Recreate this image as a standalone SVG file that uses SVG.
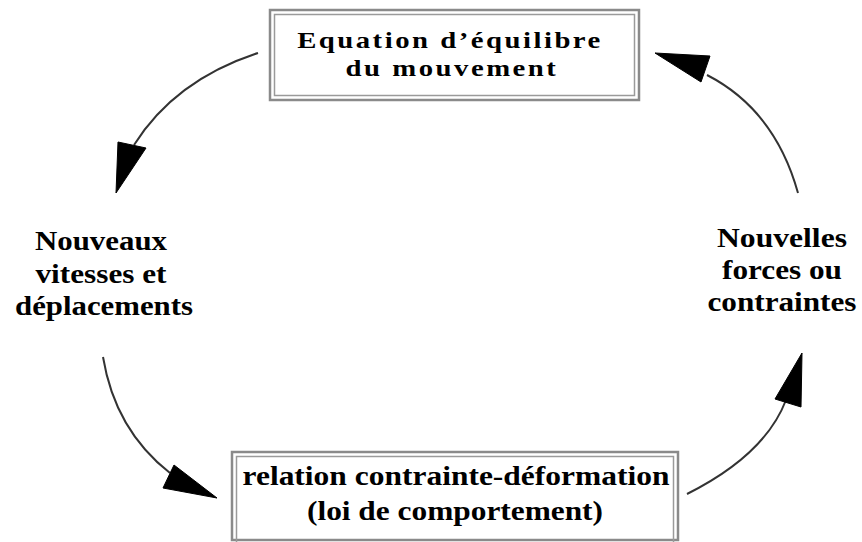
<svg xmlns="http://www.w3.org/2000/svg" width="862" height="542" viewBox="0 0 862 542">
<style>
.outer{fill:none;stroke:#8a8a8a;stroke-width:2.5}
.inner{fill:none;stroke:#9a9a9a;stroke-width:1.5}
.t{font-family:"Liberation Serif","Times New Roman",serif;font-weight:bold;fill:#000;text-anchor:middle}
.conn path{fill:none;stroke:#333;stroke-width:2}
.conn polygon{fill:#000;stroke:#000;stroke-width:1}
</style>
<rect width="862" height="542" fill="#fff"/>
<g id="equation">
<rect class="outer" x="270" y="10" width="369" height="90"/>
<rect class="inner" x="274.5" y="14.5" width="360" height="81"/>
<text class="t" transform="translate(450,48) scale(1.25,1)" x="0" y="0" font-size="23" letter-spacing="2">Equation d’équilibre</text>
<text class="t" transform="translate(452,76) scale(1.25,1)" x="0" y="0" font-size="23" letter-spacing="2">du mouvement</text>
</g>
<g id="relation">
<rect class="outer" x="232" y="452" width="446" height="88"/>
<rect class="inner" x="236.5" y="456.5" width="437" height="90"/>
<text class="t" x="456" y="485" font-size="28" textLength="427" lengthAdjust="spacingAndGlyphs">relation contrainte-déformation</text>
<text class="t" x="455" y="520" font-size="28" textLength="296" lengthAdjust="spacingAndGlyphs">(loi de comportement)</text>
</g>
<g id="nouveaux">
<text class="t" x="101" y="250" font-size="28" textLength="132" lengthAdjust="spacingAndGlyphs">Nouveaux</text>
<text class="t" x="101" y="283" font-size="28" textLength="131" lengthAdjust="spacingAndGlyphs">vitesses et</text>
<text class="t" x="104" y="315" font-size="28" textLength="178" lengthAdjust="spacingAndGlyphs">déplacements</text>
</g>
<g id="nouvelles">
<text class="t" x="782" y="247" font-size="28" textLength="130" lengthAdjust="spacingAndGlyphs">Nouvelles</text>
<text class="t" x="782" y="279" font-size="28" textLength="120" lengthAdjust="spacingAndGlyphs">forces ou</text>
<text class="t" x="782" y="311" font-size="28" textLength="149" lengthAdjust="spacingAndGlyphs">contraintes</text>
</g>
<g id="connectors" class="conn">
<path d="M258,53 Q175,80 134,145"/>
<polygon points="118,142 146,148 116,193"/>
<path d="M798,193 Q775,110 707,75"/>
<polygon points="655,53 710,56 701,82"/>
<path d="M103,357 Q115,430 170,473"/>
<polygon points="174,465 163,488 217,498"/>
<path d="M687,494 Q765,455 786,400"/>
<polygon points="802,353 775,399 801,407"/>
</g>
</svg>
